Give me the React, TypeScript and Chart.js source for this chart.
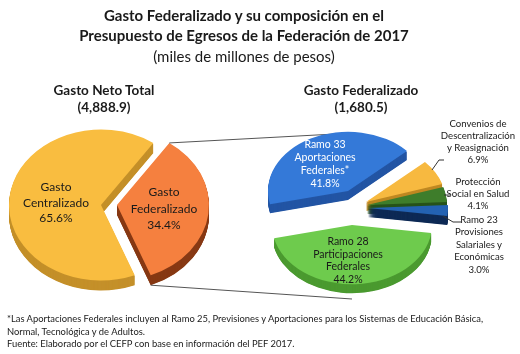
import React, { useEffect, useRef } from 'react';
import { Chart, registerables } from 'chart.js';

Chart.register(...registerables);

// ---------------- data ----------------
const TITLE_LINES = ['Gasto Federalizado y su composición en el', 'Presupuesto de Egresos de la Federación de 2017'];
const SUBTITLE = '(miles de millones de pesos)';

const TOTAL_TITLE = 'Gasto Neto Total';
const TOTAL_AMOUNT = '(4,888.9)';
const TOTAL_LABELS = ['Gasto Centralizado', 'Gasto Federalizado'];
const TOTAL_VALUES = [65.6, 34.4];

const FED_TITLE = 'Gasto Federalizado';
const FED_AMOUNT = '(1,680.5)';
const FED_LABELS = [
  'Ramo 33 Aportaciones Federales*',
  'Convenios de Descentralización y Reasignación',
  'Protección Social en Salud',
  'Ramo 23 Provisiones Salariales y Económicas',
  'Ramo 28 Participaciones Federales',
];
const FED_VALUES = [41.8, 6.9, 4.1, 3.0, 44.2];

const FOOTNOTES = [
  '*Las Aportaciones Federales incluyen al Ramo 25, Previsiones y Aportaciones para los Sistemas de Educación Básica,',
  'Normal, Tecnológica y de Adultos.',
  'Fuente: Elaborado por el CEFP con base en información del PEF 2017.',
];

// ---------------- styles ----------------
const TOTAL_COLORS = ['#F9BD40', '#F5803F'];
const TOTAL_SIDES = ['#C4902A', '#873914'];
const FED_COLORS = ['#3479D8', '#F7B940', '#3E7D2B', '#2362B2', '#6ECB4D'];
const FED_SIDES = ['#2355A4', '#BF8822', '#27531A', '#0E2A55', '#4B9A30'];

const fmt = (v: number) => v.toFixed(1) + '%';

// 3D pie drawing: squash each arc element vertically, add an extruded side, explode by screen vectors
const pie3d = {
  id: 'pie3d',
  beforeDatasetDraw(chart: any, args: any, opts: any) {
    const meta = chart.getDatasetMeta(args.index);
    const ctx = chart.ctx;
    const { squash, depth, sides, explode } = opts;
    const order = meta.data.map((a: any, i: number) => i);
    order.sort((a: number, b: number) => {
      const A = meta.data[a], B = meta.data[b];
      const ya = explode[a][1] + Math.sin((A.startAngle + A.endAngle) / 2);
      const yb = explode[b][1] + Math.sin((B.startAngle + B.endAngle) / 2);
      return ya - yb;
    });
    for (const i of order) {
      const arc = meta.data[i];
      const { x, y, startAngle, endAngle, outerRadius } = arc;
      ctx.save();
      ctx.translate(explode[i][0], explode[i][1]);
      for (let d = depth; d >= 1; d -= 0.5) {
        ctx.save();
        ctx.translate(0, d);
        ctx.translate(x, y);
        ctx.scale(1, squash);
        ctx.translate(-x, -y);
        ctx.beginPath();
        ctx.moveTo(x, y);
        ctx.arc(x, y, outerRadius, startAngle, endAngle);
        ctx.closePath();
        ctx.fillStyle = sides[i];
        ctx.fill();
        ctx.restore();
      }
      ctx.translate(x, y);
      ctx.scale(1, squash);
      ctx.translate(-x, -y);
      arc.draw(ctx);
      ctx.restore();
    }
    return false;
  },
};

const connectors = {
  id: 'connectors',
  afterDraw(chart: any, _a: any, opts: any) {
    const ctx = chart.ctx;
    const lines: number[][][] = opts.lines || [];
    ctx.save();
    ctx.strokeStyle = opts.color || '#444';
    ctx.lineWidth = 1;
    for (const pts of lines) {
      ctx.beginPath();
      pts.forEach((p, j) => (j ? ctx.lineTo(p[0], p[1]) : ctx.moveTo(p[0], p[1])));
      ctx.stroke();
    }
    if (opts.fromArc !== undefined) {
      const arc = chart.getDatasetMeta(0).data[opts.fromArc];
      const p3 = chart.options.plugins.pie3d;
      const ex = p3.explode[opts.fromArc];
      const k = p3.squash;
      const top = [arc.x + ex[0] + arc.outerRadius * Math.cos(arc.startAngle), arc.y + ex[1] + arc.outerRadius * k * Math.sin(arc.startAngle)];
      const bot = [arc.x + ex[0] + arc.outerRadius * Math.cos(arc.endAngle), arc.y + ex[1] + arc.outerRadius * k * Math.sin(arc.endAngle) + p3.depth];
      ctx.beginPath();
      ctx.moveTo(top[0], top[1]);
      ctx.lineTo(opts.toTop[0], opts.toTop[1]);
      ctx.moveTo(bot[0], bot[1]);
      ctx.lineTo(opts.toBottom[0], opts.toBottom[1]);
      ctx.stroke();
    }
    ctx.restore();
  },
};

const baseOptions = (extra: any) => ({
  responsive: false,
  animation: false,
  events: [],
  ...extra,
});

const Label = ({ x, y, text, style }: { x: number; y: number; text: string; style?: any }) => (
  <div
    style={{
      position: 'absolute',
      left: x,
      top: y,
      transform: 'translate(-50%, -50%)',
      textAlign: 'center',
      whiteSpace: 'pre',
      ...style,
    }}
  >
    {text}
  </div>
);

export default function App() {
  const leftRef = useRef<HTMLCanvasElement>(null);
  const rightRef = useRef<HTMLCanvasElement>(null);

  useEffect(() => {
    const left = new Chart(leftRef.current!, {
      type: 'pie',
      data: {
        labels: TOTAL_LABELS,
        datasets: [{ data: TOTAL_VALUES, backgroundColor: TOTAL_COLORS, borderWidth: 0 }],
      },
      options: baseOptions({
        radius: 92,
        rotation: 158.5,
        layout: { padding: { left: 0, right: 304, top: 56, bottom: 0 } },
        plugins: {
          legend: { display: false },
          tooltip: { enabled: false },
          pie3d: { squash: 0.82, depth: 10, sides: TOTAL_SIDES, explode: [[-7, 0], [9, 0]] },
          connectors: { fromArc: 1, toTop: [335, 134], toBottom: [352, 299], color: '#555' },
        },
      }),
      plugins: [pie3d, connectors],
    } as any);

    const right = new Chart(rightRef.current!, {
      type: 'pie',
      data: {
        labels: FED_LABELS,
        datasets: [{ data: FED_VALUES, backgroundColor: FED_COLORS, borderWidth: 0 }],
      },
      options: baseOptions({
        radius: 80,
        rotation: 257,
        layout: { padding: { left: 192, right: 0, top: 58, bottom: 0 } },
        plugins: {
          legend: { display: false },
          tooltip: { enabled: false },
          pie3d: {
            squash: 0.74,
            depth: 9,
            sides: FED_SIDES,
            explode: [[-8, -15], [10, -4], [11, -1], [12, 2], [-4, 19]],
          },
          connectors: {
            color: '#333',
            lines: [
              [[432, 170], [439, 160], [444, 160]],
              [[444, 195], [450, 195]],
              [[443, 216], [453, 222], [461, 222]],
            ],
          },
        },
      }),
      plugins: [pie3d, connectors],
    } as any);

    return () => {
      left.destroy();
      right.destroy();
    };
  }, []);

  const dark = '#1a1a1a';
  return (
    <div
      style={{
        position: 'absolute',
        left: 0,
        top: 0,
        width: 520,
        height: 354,
        background: '#fff',
        overflow: 'hidden',
        fontFamily: 'Lato, "Open Sans", sans-serif',
        color: dark,
      }}
    >
      <canvas ref={leftRef} width={520} height={354} style={{ position: 'absolute', left: 0, top: 0 }} />
      <canvas ref={rightRef} width={520} height={354} style={{ position: 'absolute', left: 0, top: 0 }} />

      <Label x={244} y={15} text={TITLE_LINES[0]} style={{ fontSize: 15, fontWeight: 700 }} />
      <Label x={244} y={35} text={TITLE_LINES[1]} style={{ fontSize: 15, fontWeight: 700 }} />
      <Label x={244} y={56} text={SUBTITLE} style={{ fontSize: 15 }} />

      <Label x={104} y={90} text={TOTAL_TITLE} style={{ fontSize: 13.5, fontWeight: 700 }} />
      <Label x={104} y={107} text={TOTAL_AMOUNT} style={{ fontSize: 13.5, fontWeight: 700 }} />
      <Label x={361} y={90} text={FED_TITLE} style={{ fontSize: 13.5, fontWeight: 700 }} />
      <Label x={361} y={107} text={FED_AMOUNT} style={{ fontSize: 13.5, fontWeight: 700 }} />

      <Label x={56} y={202} text={'Gasto\nCentralizado\n' + fmt(TOTAL_VALUES[0])} style={{ fontSize: 12, lineHeight: '15.5px' }} />
      <Label x={164} y={209} text={'Gasto\nFederalizado\n' + fmt(TOTAL_VALUES[1])} style={{ fontSize: 12, lineHeight: '16.5px' }} />

      <Label x={325} y={164} text={'Ramo 33\nAportaciones\nFederales*\n' + fmt(FED_VALUES[0])} style={{ fontSize: 10.5, lineHeight: '13px', color: '#fff' }} />
      <Label x={348} y={260} text={'Ramo 28\nParticipaciones\nFederales\n' + fmt(FED_VALUES[4])} style={{ fontSize: 10.5, lineHeight: '12.5px' }} />
      <Label x={478} y={142} text={'Convenios de\nDescentralización\ny Reasignación\n' + fmt(FED_VALUES[1])} style={{ fontSize: 9.6, lineHeight: '12px' }} />
      <Label x={478} y={194} text={'Protección\nSocial en Salud\n' + fmt(FED_VALUES[2])} style={{ fontSize: 9.6, lineHeight: '12px' }} />
      <Label x={479} y={245} text={'Ramo 23\nProvisiones\nSalariales y\nEconómicas\n' + fmt(FED_VALUES[3])} style={{ fontSize: 9.6, lineHeight: '12.4px' }} />

      <div style={{ position: 'absolute', left: 7, top: 313, fontSize: 9.4, lineHeight: '12.5px', whiteSpace: 'pre' }}>
        {FOOTNOTES.join('\n')}
      </div>
    </div>
  );
}
